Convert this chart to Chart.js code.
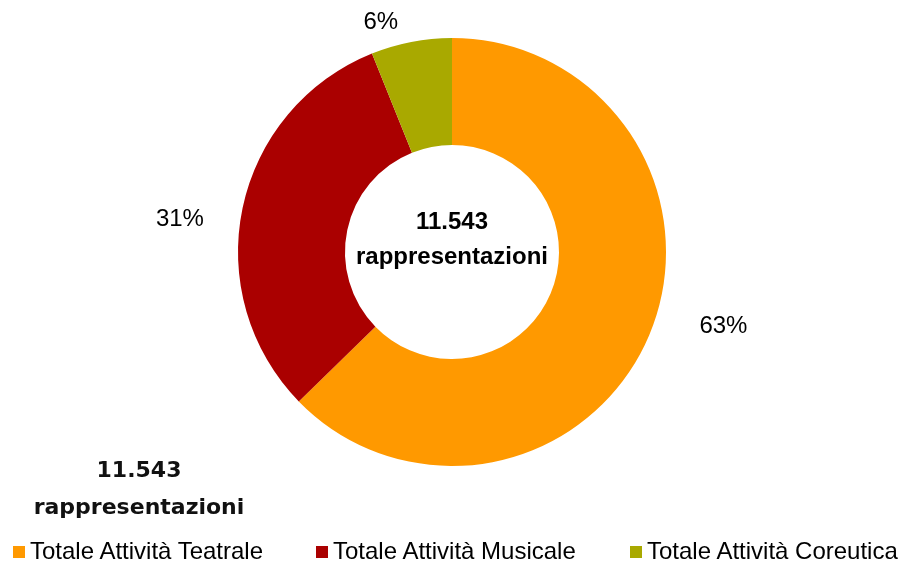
<!DOCTYPE html>
<html>
<head>
<meta charset="utf-8">
<script src="https://cdn.jsdelivr.net/npm/chart.js@4"></script>
<style>
  html, body { margin: 0; padding: 0; background: #fff; }
  #wrap { position: relative; width: 903px; height: 563px; }
  #legend { position: absolute; left: 0; top: 537px; width: 903px; height: 28px;
            font: 24px 'Liberation Sans', Arial, sans-serif; color: #000; }
  .item { position: absolute; top: 0; white-space: nowrap; line-height: 28px; }
  .box { display: inline-block; width: 12px; height: 12px; margin-right: 5px; vertical-align: 1px; }
  #note { position: absolute; left: 0; top: 451px; width: 278px; text-align: center;
          font: bold 22px 'DejaVu Sans', sans-serif; line-height: 37px; color: #111; }
</style>
</head>
<body>
<div id="wrap">
  <canvas id="c" width="903" height="563"></canvas>
  <div id="note">11.543<br>rappresentazioni</div>
  <div id="legend"></div>
</div>
<script>
// data
const categories = ['Totale Attività Teatrale', 'Totale Attività Musicale', 'Totale Attività Coreutica'];
const shares = [62.7, 31.2, 6.1];
const percentLabels = ['63%', '31%', '6%'];
const centerLines = ['11.543', 'rappresentazioni'];

const COLORS = ['#ff9900', '#aa0000', '#a9a900'];

// nudges for the percentage labels (Excel-style "best fit")
const LABEL_NUDGE = [[19, -32], [-4, 24], [-19, 39]];
const legendX = [13, 316, 630];

const pctLabels = {
    id: 'pctLabels',
    afterDatasetsDraw(chart) {
        const ctx = chart.ctx;
        const meta = chart.getDatasetMeta(0);
        ctx.save();
        ctx.fillStyle = '#000';
        ctx.textAlign = 'center';
        ctx.textBaseline = 'middle';
        ctx.font = '24px "Liberation Sans", Arial, sans-serif';
        meta.data.forEach((arc, i) => {
            const mid = (arc.startAngle + arc.endAngle) / 2;
            const r = arc.outerRadius * 1.28;
            const x = arc.x + Math.cos(mid) * r + LABEL_NUDGE[i][0];
            const y = arc.y + Math.sin(mid) * r + LABEL_NUDGE[i][1];
            ctx.fillText(percentLabels[i], x, y);
        });
        const a = meta.data[0];
        ctx.font = 'bold 24px "Liberation Sans", Arial, sans-serif';
        ctx.fillText(centerLines[0], a.x, a.y - 30);
        ctx.fillText(centerLines[1], a.x, a.y + 5);
        ctx.restore();
    },
};

new Chart(document.getElementById('c'), {
    type: 'doughnut',
    data: {
        labels: categories,
        datasets: [{
            data: shares,
            backgroundColor: COLORS,
            borderWidth: 0,
        }],
    },
    options: {
        responsive: false,
        animation: false,
        cutout: '50%',
        layout: { padding: { top: 38, bottom: 97, left: 238, right: 237 } },
        plugins: {
            legend: { display: false },
            tooltip: { enabled: false },
        },
    },
    plugins: [pctLabels],
});

const legend = document.getElementById('legend');
categories.forEach((name, i) => {
    const el = document.createElement('div');
    el.className = 'item';
    el.style.left = legendX[i] + 'px';
    el.innerHTML = '<span class="box" style="background:' + COLORS[i] + '"></span>' + name;
    legend.appendChild(el);
});
</script>
</body>
</html>
